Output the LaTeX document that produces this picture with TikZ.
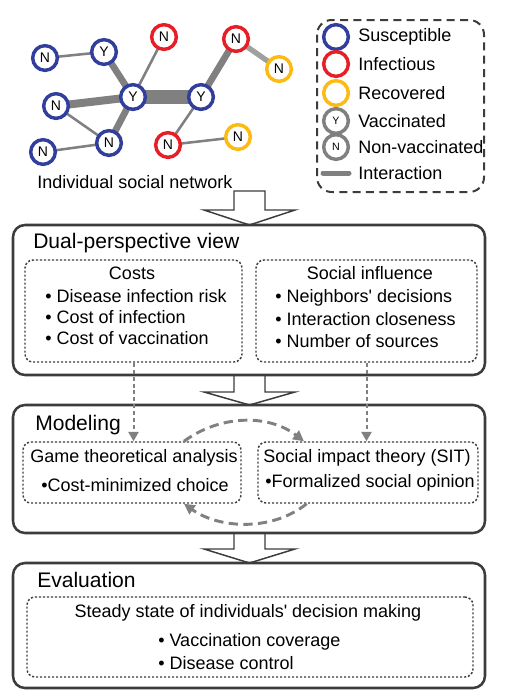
\documentclass[tikz,border=0pt]{standalone}
\usepackage{fontspec}
\setmainfont{Liberation Sans}
\usetikzlibrary{arrows.meta}
\usetikzlibrary{backgrounds}

\definecolor{susblue}{RGB}{50,62,155}
\definecolor{infred}{RGB}{232,30,38}
\definecolor{recyellow}{RGB}{252,186,18}
\definecolor{linkgray}{RGB}{128,128,128}
\definecolor{boxgray}{RGB}{60,60,60}

\tikzset{
  person/.style={circle, draw, line width=2.6pt, fill=white, minimum size=18.5pt, inner sep=0pt, font=\fontsize{10.5}{10.5}\selectfont},
  sus/.style={person, draw=susblue},
  inf/.style={person, draw=infred},
  rec/.style={person, draw=recyellow},
  keynode/.style={person, font=\fontsize{8}{8}\selectfont},
  link/.style={draw=linkgray, line width=1.9pt},
  stagebox/.style={draw=boxgray, line width=1.9pt, rounded corners=9pt},
  partbox/.style={draw=boxgray, line width=1.1pt, dash pattern=on 1.6pt off 1.4pt, rounded corners=6pt, inner sep=0pt},
  bigarrow/.style={draw=boxgray, line width=1.1pt, fill=white},
  feed/.style={draw=linkgray, line width=1.5pt, dash pattern=on 3pt off 2.2pt, -{Triangle[length=7pt,width=7.5pt]}},
  mutual/.style={draw=linkgray, line width=2.2pt, dash pattern=on 7pt off 4pt, -{Triangle[length=8pt,width=8pt]}},
  txt/.style={font=\fontsize{13.5}{16}\selectfont, inner sep=0pt},
  stagetitle/.style={font=\fontsize{15.8}{18}\selectfont, inner sep=0pt, anchor=west},
}

\begin{document}
\begin{tikzpicture}[x=0.75pt,y=0.75pt,yscale=-1,xscale=1]
\useasboundingbox (0,0) rectangle (508,700);

%Network: individuals
\node[sus] (n1) at (45,58) {N};
\node[sus] (y1) at (104,52) {Y};
\node[inf] (n2) at (164,37) {N};
\node[inf] (n3) at (236,39) {N};
\node[rec] (n4) at (279,69) {N};
\node[sus] (y2) at (133,97) {Y};
\node[sus] (y3) at (201,97) {Y};
\node[sus] (n5) at (56,106) {N};
\node[sus] (n6) at (109,143) {N};
\node[sus] (n7) at (43,152) {N};
\node[inf] (n8) at (168,145) {N};
\node[rec] (n9) at (238,137) {N};

%Network: interactions
\begin{scope}[on background layer]
\draw[link] (n1.center) -- (y1.center);
\draw[link, line width=5pt] (y1.center) -- (y2.center);
\draw[link] (n2.center) -- (y2.center);
\draw[link, line width=6pt] (n5.center) -- (y2.center);
\draw[link] (n5.center) -- (n6.center);
\draw[link, line width=5pt] (n6.center) -- (y2.center);
\draw[link] (n7.center) -- (n6.center);
\draw[link, line width=10.5pt] (y2.center) -- (y3.center);
\draw[link, line width=5pt] (y3.center) -- (n3.center);
\draw[link, draw=linkgray!75, line width=4pt] (n3.center) -- (n4.center);
\draw[link] (y3.center) -- (n8.center);
\draw[link] (n8.center) -- (n9.center);
\end{scope}

% Text Node
\node[txt, anchor=west] (netcap) at (37,182) {Individual social network};

%Shape: Legend frame
\draw[draw=boxgray, line width=1.5pt, dash pattern=on 6pt off 4pt, rounded corners=11pt] (317,20) rectangle (484,192);
\node[keynode, draw=susblue] (ksus) at (336,37) {};
\node[keynode, draw=infred] (kinf) at (336,64) {};
\node[keynode, draw=recyellow] (krec) at (336,93) {};
\node[keynode, draw=linkgray] (kvac) at (336,121) {Y};
\node[keynode, draw=linkgray] (knon) at (336,147) {N};
\coordinate (kla) at (323,173);
\coordinate (klb) at (349,173);
\draw[link, line width=3.75pt, line cap=round] (kla) -- (klb);
% Text Node
\node[txt, anchor=west] (tsus) at (358,37) {Susceptible};
\node[txt, anchor=west] (tinf) at (358,64) {Infectious};
\node[txt, anchor=west] (trec) at (358,93) {Recovered};
\node[txt, anchor=west] (tvac) at (358,121) {Vaccinated};
\node[txt, anchor=west] (tnon) at (358,147) {Non-vaccinated};
\node[txt, anchor=west] (tint) at (358,173) {Interaction};

%Shape: Block arrows
\draw[bigarrow] (234,191) -- (265,191) -- (265,210) -- (295,210) -- (249.5,225) -- (204,210) -- (234,210) -- cycle;
\draw[bigarrow] (234,375) -- (265,375) -- (265,392) -- (295,392) -- (249.5,405) -- (204,392) -- (234,392) -- cycle;
\draw[bigarrow] (234,533) -- (265,533) -- (265,549) -- (295,549) -- (249.5,563) -- (204,549) -- (234,549) -- cycle;

%Shape: Stage frames
\draw[stagebox] (13,225) rectangle (485,375);
\draw[stagebox] (13,405) rectangle (485,533);
\draw[stagebox] (13,563) rectangle (485,688);

% Dual-perspective view
\node[stagetitle] (tdual) at (33,243) {Dual-perspective view};
\node[partbox, minimum width=162.75pt, minimum height=76.5pt] (costs) at (133.5,311) {};
\node[partbox, minimum width=165.75pt, minimum height=76.5pt] (social) at (366.5,311) {};
\node[txt] (tcosts) at (132,273) {Costs};
\node[txt, anchor=west] (c1) at (45,296) {\textbullet{} Disease infection risk};
\node[txt, anchor=west] (c2) at (45,317) {\textbullet{} Cost of infection};
\node[txt, anchor=west] (c3) at (45,338) {\textbullet{} Cost of vaccination};
\node[txt] (tsocial) at (370,273) {Social influence};
\node[txt, anchor=west] (s1) at (275,298) {\textbullet{} Neighbors\textquotesingle{} decisions};
\node[txt, anchor=west] (s2) at (275,319) {\textbullet{} Interaction closeness};
\node[txt, anchor=west] (s3) at (275,341) {\textbullet{} Number of sources};

% Modeling
\node[stagetitle] (tmodel) at (35,425) {Modeling};
\node[partbox, minimum width=163.5pt, minimum height=45.75pt] (game) at (132,472.5) {};
\node[partbox, minimum width=165pt, minimum height=45.75pt] (sit) at (368,472.5) {};
\node[txt] (tgame) at (134,458) {Game theoretical analysis};
\node[txt] (g1) at (135,485) {\textbullet Cost-minimized choice};
\node[txt] (tsit) at (367,458) {Social impact theory (SIT)};
\node[txt] (m1) at (370,483) {\textbullet Formalized social opinion};

\draw[feed] (costs.south) -- (costs.south |- game.north);
\draw[feed] (social.south) -- (social.south |- sit.north);
\draw[mutual] (game.31) .. controls +(37,-27) and +(-35,-27) .. (sit.154);
\draw[mutual] (sit.207) .. controls +(-35,28) and +(35,25) .. (game.329);

% Evaluation
\node[stagetitle] (teval) at (37,580) {Evaluation};
\node[partbox, minimum width=334.5pt, minimum height=60pt] (steady) at (250,637) {};
\node[txt] (tsteady) at (248,613) {Steady state of individuals\textquotesingle{} decision making};
\node[txt, anchor=west] (e1) at (158,642) {\textbullet{} Vaccination coverage};
\node[txt, anchor=west] (e2) at (158,663) {\textbullet{} Disease control};

\end{tikzpicture}
\end{document}
